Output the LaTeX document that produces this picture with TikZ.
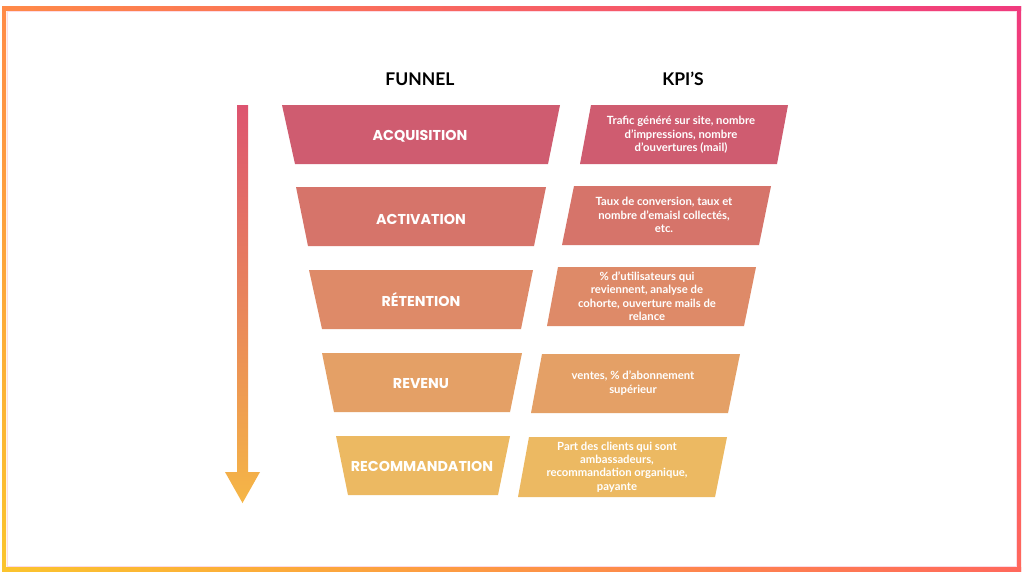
\documentclass[tikz,border=0pt]{standalone}
\usepackage{fontspec}
\setmainfont{Lato}
\newfontfamily\labfont{Poppins}
\definecolor{rowA}{RGB}{207,92,112}
\definecolor{rowB}{RGB}{214,116,106}
\definecolor{rowC}{RGB}{222,138,104}
\definecolor{rowD}{RGB}{228,160,102}
\definecolor{rowE}{RGB}{236,185,98}
\definecolor{frTL}{RGB}{255,138,72}
\definecolor{frTR}{RGB}{240,58,126}
\definecolor{frBL}{RGB}{251,196,46}
\definecolor{frBR}{RGB}{255,104,92}
\definecolor{arTop}{RGB}{221,84,112}
\definecolor{arBot}{RGB}{245,182,70}
\tikzset{
  funlabel/.style={font=\labfont\bfseries\fontsize{14.3}{16}\selectfont, text=white, inner sep=0pt},
  kpilabel/.style={font=\bfseries\fontsize{11.3}{13.4}\selectfont, text=white, align=center, inner sep=0pt},
  header/.style={font=\bfseries\fontsize{17.5}{19}\selectfont, text=black, inner sep=0pt},
}
\begin{document}
\begin{tikzpicture}[x=1pt,y=-1pt]
\useasboundingbox (0,0) rectangle (1024,576);
\fill[white] (0,0) rectangle (1024,576);
% frame
\shade[left color=frTL, right color=frTR] (2,6) rectangle (1021,10);
\shade[left color=frBL, right color=frBR] (2,567) rectangle (1021,571);
\shade[top color=frTL, bottom color=frBL] (2,6) rectangle (6,571);
\shade[top color=frTR, bottom color=frBR] (1017,6) rectangle (1021,571);
\draw[white!70!frTR, line width=0.6pt, opacity=0.6] (7,11.5) rectangle (1016,566);
% headers
\node[header] (hfunnel) at (420,79) {FUNNEL};
\node[header] (hkpi) at (683,79) {KPI’S};
% arrow
\shade[top color=arTop, bottom color=arBot]
  (237,105) -- (248,105) -- (248,472) -- (260,472) -- (242.5,503) -- (225,472) -- (237,472) -- cycle;
% row 1
\fill[rowA] (282,105) -- (560,105) -- (548,164) -- (295,164) -- cycle;
\node[funlabel] (f1) at (420,136) {ACQUISITION};
\fill[rowA] (591,105) -- (788,105) -- (777,164) -- (580,164) -- cycle;
\node[kpilabel] (k1) at (681,135) {Trafic généré sur site, nombre\\d’impressions, nombre\\d’ouvertures (mail)};
% row 2
\fill[rowB] (296,187) -- (546,187) -- (534,246) -- (308,246) -- cycle;
\node[funlabel] (f2) at (421,219) {ACTIVATION};
\fill[rowB] (574,186) -- (771,186) -- (759,245) -- (562,245) -- cycle;
\node[kpilabel] (k2) at (664,215) {Taux de conversion, taux et\\nombre d’emaisl collectés,\\etc.};
% row 3
\fill[rowC] (309,270) -- (533,270) -- (521,329) -- (322,329) -- cycle;
\node[funlabel] (f3) at (421,300) {RÉTENTION};
\fill[rowC] (558,267) -- (756,267) -- (744,326) -- (547,326) -- cycle;
\node[kpilabel] (k3) at (647,296) {\% d’utilisateurs qui\\reviennent, analyse de\\cohorte, ouverture mails de\\relance};
% row 4
\fill[rowD] (322,353) -- (522,353) -- (510,412) -- (334,412) -- cycle;
\node[funlabel] (f4) at (421,384) {REVENU};
\fill[rowD] (542,354) -- (740,354) -- (728,413) -- (531,413) -- cycle;
\node[kpilabel] (k4) at (633,383) {ventes, \% d’abonnement\\supérieur};
% row 5
\fill[rowE] (336,436) -- (510,436) -- (498,495) -- (348,495) -- cycle;
\node[funlabel] (f5) at (422,466) {RECOMMANDATION};
\fill[rowE] (529,437) -- (727,437) -- (715,497) -- (518,497) -- cycle;
\node[kpilabel] (k5) at (617,467) {Part des clients qui sont\\ambassadeurs,\\recommandation organique,\\payante};
\end{tikzpicture}
\end{document}
